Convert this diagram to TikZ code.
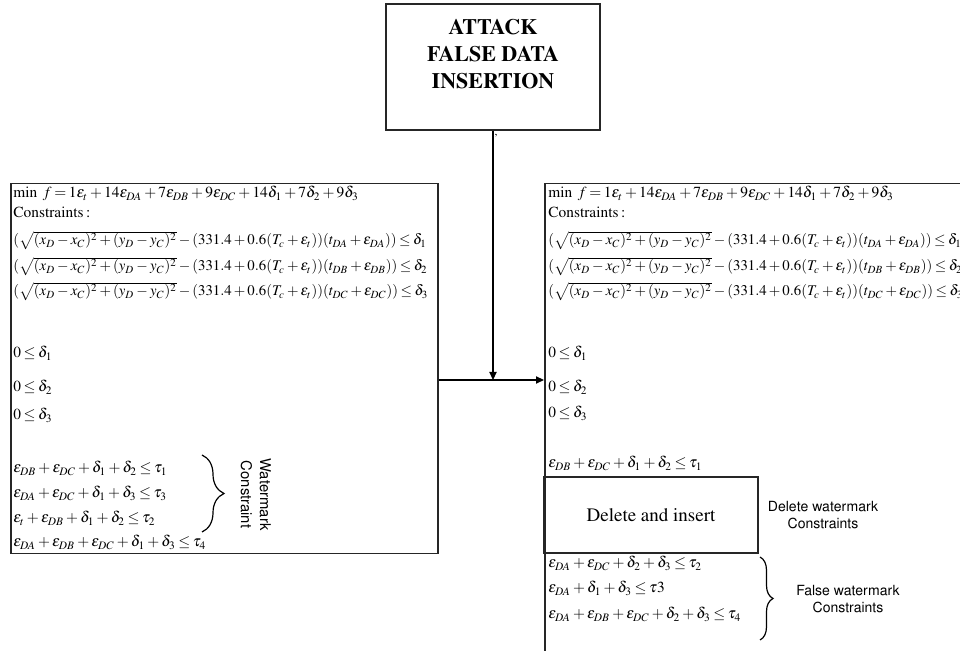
\documentclass[tikz,border=0pt]{standalone}
\usepackage[T1]{fontenc}
\usepackage{mathptmx}
\usepackage{helvet}
\usetikzlibrary{arrows.meta,decorations.pathreplacing}
\AtBeginDocument{\medmuskip=2.5mu\relax\thickmuskip=3mu\relax}

\begin{document}
\begin{tikzpicture}[
  x=0.5pt, y=-0.5pt,
  box/.style={draw=black!85, line width=0.75pt, inner sep=0pt},
  eq/.style={anchor=base west, inner sep=0pt, font=\fontsize{7.7}{9}\selectfont},
  root/.style={eq, font=\fontsize{7.4}{9}\selectfont},
  note/.style={align=center, inner sep=0pt, font=\fontfamily{phv}\fontsize{7}{8.5}\selectfont},
  link/.style={draw, line width=0.6pt, -{Triangle[length=4pt,width=3.6pt]}},
  curly/.style={decorate, line width=0.6pt, decoration={brace, amplitude=#1}}
]
\useasboundingbox (0,0) rectangle (960,651);
\clip (0,0) rectangle (960,651);

% attack block
\node[box, minimum width=107pt, minimum height=63pt] (attack) at (493,67) {};
\node[align=center, font=\bfseries\fontsize{11}{13.3}\selectfont] (title) at (493,54)
  {ATTACK\\FALSE DATA\\INSERTION};
\node[inner sep=0pt, font=\fontsize{6}{7}\selectfont] (tick) at (496,136) {,};

% model before the attack
\node[box, anchor=north west, minimum width=213.5pt, minimum height=185pt] (lbox) at (10,183) {};
\node[eq] (lmin) at (13,198) {$\min\ f=1\varepsilon_t+14\varepsilon_{DA}+7\varepsilon_{DB}+9\varepsilon_{DC}+14\delta_1+7\delta_2+9\delta_3$};
\node[eq] (lcon) at (13,218) {Constraints\,:};
\node[root] (la) at (13,245) {$(\sqrt{(x_D-x_C)^2+(y_D-y_C)^2}-(331.4+0.6(T_c+\varepsilon_t))(t_{DA}+\varepsilon_{DA}))\le\delta_1$};
\node[root] (lb) at (13,271) {$(\sqrt{(x_D-x_C)^2+(y_D-y_C)^2}-(331.4+0.6(T_c+\varepsilon_t))(t_{DB}+\varepsilon_{DB}))\le\delta_2$};
\node[root] (lc) at (13,296) {$(\sqrt{(x_D-x_C)^2+(y_D-y_C)^2}-(331.4+0.6(T_c+\varepsilon_t))(t_{DC}+\varepsilon_{DC}))\le\delta_3$};
\node[eq] (ld1) at (13,358) {$0\le\delta_1$};
\node[eq] (ld2) at (13,392) {$0\le\delta_2$};
\node[eq] (ld3) at (13,420) {$0\le\delta_3$};
\node[eq] (lw1) at (13,473) {$\varepsilon_{DB}+\varepsilon_{DC}+\delta_1+\delta_2\le\tau_1$};
\node[eq] (lw2) at (13,498) {$\varepsilon_{DA}+\varepsilon_{DC}+\delta_1+\delta_3\le\tau_3$};
\node[eq] (lw3) at (13,523) {$\varepsilon_t+\varepsilon_{DB}+\delta_1+\delta_2\le\tau_2$};
\node[eq] (lw4) at (13,547) {$\varepsilon_{DA}+\varepsilon_{DB}+\varepsilon_{DC}+\delta_1+\delta_3\le\tau_4$};
\draw[curly=11pt] (202,455) -- (202,532);
\node[note, rotate=-90, anchor=north west, font=\fontfamily{phv}\fontsize{7.4}{9.5}\selectfont] (wm) at (271,458)
  {Watermark\\Constraint};

% model after the attack
\node[box, anchor=north west, minimum width=240pt, minimum height=260pt] (rbox) at (544,183) {};
\node[eq] (rmin) at (548,198) {$\min\ f=1\varepsilon_t+14\varepsilon_{DA}+7\varepsilon_{DB}+9\varepsilon_{DC}+14\delta_1+7\delta_2+9\delta_3$};
\node[eq] (rcon) at (548,218) {Constraints\,:};
\node[root] (ra) at (548,245) {$(\sqrt{(x_D-x_C)^2+(y_D-y_C)^2}-(331.4+0.6(T_c+\varepsilon_t))(t_{DA}+\varepsilon_{DA}))\le\delta_1$};
\node[root] (rb) at (548,271) {$(\sqrt{(x_D-x_C)^2+(y_D-y_C)^2}-(331.4+0.6(T_c+\varepsilon_t))(t_{DB}+\varepsilon_{DB}))\le\delta_2$};
\node[root] (rc) at (548,296) {$(\sqrt{(x_D-x_C)^2+(y_D-y_C)^2}-(331.4+0.6(T_c+\varepsilon_t))(t_{DC}+\varepsilon_{DC}))\le\delta_3$};
\node[eq] (rd1) at (548,358) {$0\le\delta_1$};
\node[eq] (rd2) at (548,392) {$0\le\delta_2$};
\node[eq] (rd3) at (548,418) {$0\le\delta_3$};
\node[eq] (rw1) at (548,468) {$\varepsilon_{DB}+\varepsilon_{DC}+\delta_1+\delta_2\le\tau_1$};
\node[box, minimum width=107pt, minimum height=38pt, font=\fontsize{9.5}{11}\selectfont] (del) at (651,515) {Delete and insert};
\node[note] (delnote) at (823,515) {Delete watermark\\Constraints};
\node[eq] (rf1) at (548,568) {$\varepsilon_{DA}+\varepsilon_{DC}+\delta_2+\delta_3\le\tau_2$};
\node[eq] (rf2) at (548,593) {$\varepsilon_{DA}+\delta_1+\delta_3\le\tau3$};
\node[eq] (rf3) at (548,619) {$\varepsilon_{DA}+\varepsilon_{DB}+\varepsilon_{DC}+\delta_2+\delta_3\le\tau_4$};
\draw[curly=6.5pt] (760,557) -- (760,640);
\node[note] (falsenote) at (848,599) {False watermark\\Constraints};

% arrows
\coordinate (j) at (493,380);
\draw[link] (attack.south -| j) -- (j);
\draw[link] (lbox.east |- j) -- (rbox.west |- j);
\end{tikzpicture}
\end{document}
